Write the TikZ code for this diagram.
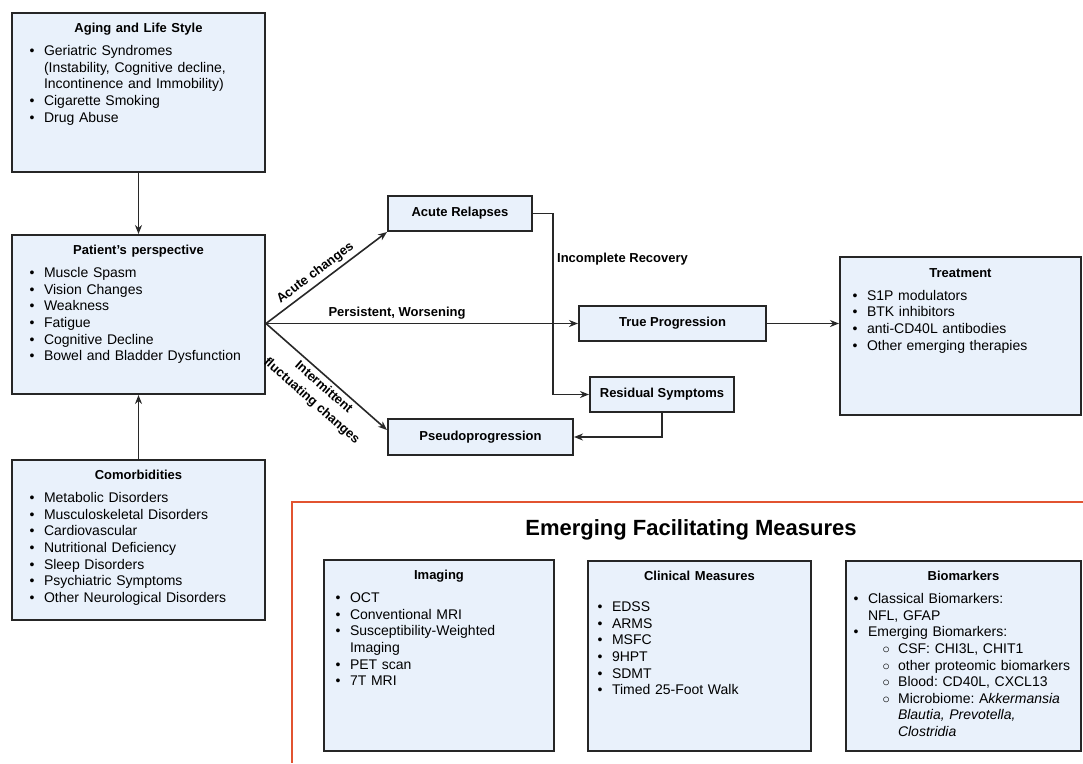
\documentclass[tikz,border=0pt]{standalone}
\usepackage{fontspec}
\setmainfont{Liberation Sans}
\usepackage{xcolor}
\usetikzlibrary{arrows.meta, positioning}
\frenchspacing

\definecolor{boxfill}{RGB}{233,241,251}
\definecolor{boxline}{RGB}{38,38,38}
\definecolor{arrowcol}{RGB}{40,40,40}
\definecolor{redframe}{RGB}{226,83,48}

\newcommand{\bodyfont}{\fontsize{14}{16.6}\selectfont}
\newcommand{\head}[1]{{\centering\fontsize{13}{15}\selectfont\bfseries #1\par}}
\newenvironment{bul}{\begin{list}{\textbullet}{\setlength{\leftmargin}{14pt}\setlength{\labelsep}{9.5pt}\setlength{\labelwidth}{5pt}\setlength{\itemsep}{0pt}\setlength{\parsep}{0pt}\setlength{\topsep}{6.5pt}\setlength{\partopsep}{0pt}}}{\end{list}}
\newenvironment{subbul}{\begin{list}{$\circ$}{\setlength{\leftmargin}{30pt}\setlength{\labelsep}{8.5pt}\setlength{\labelwidth}{7pt}\setlength{\itemsep}{0pt}\setlength{\parsep}{0pt}\setlength{\topsep}{0pt}\setlength{\partopsep}{0pt}}}{\end{list}}

\begin{document}
\begin{tikzpicture}[
    x=1pt, y=-1pt,
    box/.style={rectangle, draw=boxline, line width=2pt, fill=boxfill, inner sep=0pt},
    txt/.style={text width=#1, inner sep=0pt, align=left, font=\bodyfont, execute at begin node={\linewidth=\hsize}},
    tag/.style={font=\fontsize{13}{15}\selectfont\bfseries},
    arrow/.style={-{Stealth[length=9pt,width=7pt]}, line width=1.6pt, draw=arrowcol}
]
\useasboundingbox (0,0) rectangle (1083,763);

% left column
\node[box, minimum width=253pt, minimum height=159pt] (aging) at (138.5,92.5) {};
\node[box, minimum width=253pt, minimum height=159pt] (patient) at (138.5,314.5) {};
\node[box, minimum width=253pt, minimum height=160pt] (comorb) at (138.5,540) {};

\node[txt=217pt, below=11pt of aging.north] (aging-txt) {\head{Aging and Life Style}
  \begin{bul}
  \item Geriatric Syndromes\newline (Instability, Cognitive decline,\newline Incontinence and Immobility)
  \item Cigarette Smoking
  \item Drug Abuse
  \end{bul}};
\node[txt=217pt, below=11pt of patient.north] (patient-txt) {\head{Patient's perspective}
  \begin{bul}
  \item Muscle Spasm
  \item Vision Changes
  \item Weakness
  \item Fatigue
  \item Cognitive Decline
  \item Bowel and Bladder Dysfunction
  \end{bul}};
\node[txt=217pt, below=11pt of comorb.north] (comorb-txt) {\head{Comorbidities}
  \begin{bul}
  \item Metabolic Disorders
  \item Musculoskeletal Disorders
  \item Cardiovascular
  \item Nutritional Deficiency
  \item Sleep Disorders
  \item Psychiatric Symptoms
  \item Other Neurological Disorders
  \end{bul}};

% course of disease
\node[box, tag, minimum width=144pt, minimum height=35pt] (acute) at (460,213.5) {Acute Relapses};
\node[box, tag, minimum width=187pt, minimum height=35pt] (trueprog) at (672.5,323.5) {True Progression};
\node[box, tag, minimum width=144pt, minimum height=35pt] (residual) at (662,394.5) {Residual Symptoms};
\node[box, tag, minimum width=185pt, minimum height=36pt] (pseudo) at (480.5,437) {Pseudoprogression};

\node[box, minimum width=241pt, minimum height=158pt] (treat) at (960.5,336) {};
\node[txt=215pt, below=12pt of treat.north] (treat-txt) {\head{Treatment}
  \begin{bul}
  \item S1P modulators
  \item BTK inhibitors
  \item anti-CD40L antibodies
  \item Other emerging therapies
  \end{bul}};

\draw[arrow] (aging) -- (patient);
\draw[arrow] (comorb) -- (patient);
\coordinate (fan) at (patient.east |- trueprog.west);
\draw[arrow] (fan) -- node[tag, sloped, above, pos=0.46] {Acute changes} (acute.south west);
\draw[arrow] (fan) -- node[tag, above, pos=0.42] {Persistent, Worsening} (trueprog.west);
\draw[arrow] (fan) -- node[sloped, below, align=center, pos=0.53, font=\fontsize{13}{18}\selectfont\bfseries] {Intermittent\\fluctuating changes} ([yshift=7pt]pseudo.west);
\draw[arrow] (acute.east) -- ++(20,0) |- node[tag, right, pos=0.126] {Incomplete Recovery} (residual.west);
\draw[arrow] (residual.south) |- (pseudo.east);
\draw[arrow] (trueprog.east) -- (trueprog.east -| treat.west);

% emerging measures
\draw[draw=redframe, line width=2pt] (1083,502) -| (292,763);
\node[font=\fontsize{22}{26}\selectfont\bfseries] (emtitle) at (691,530) {Emerging Facilitating Measures};

\node[box, minimum width=230pt, minimum height=191pt] (imaging) at (439,655.5) {};
\node[box, minimum width=223pt, minimum height=190pt] (clinical) at (699.5,656) {};
\node[box, minimum width=235pt, minimum height=190pt] (biomark) at (963.5,656) {};

\node[txt=206pt, below=11pt of imaging.north] (imaging-txt) {\head{Imaging}
  \begin{bul}
  \item OCT
  \item Conventional MRI
  \item Susceptibility-Weighted\newline Imaging
  \item PET scan
  \item 7T MRI
  \end{bul}};
\node[txt=203pt, below=11pt of clinical.north] (clinical-txt) {\head{Clinical Measures}
  \vspace{8pt}
  \begin{bul}
  \item EDSS
  \item ARMS
  \item MSFC
  \item 9HPT
  \item SDMT
  \item Timed 25-Foot Walk
  \end{bul}};
\node[txt=219pt, below=11pt of biomark.north] (biomark-txt) {\head{Biomarkers}
  \begin{bul}
  \item Classical Biomarkers:\newline NFL, GFAP
  \item Emerging Biomarkers:
    \begin{subbul}
    \item CSF: CHI3L, CHIT1
    \item other proteomic biomarkers
    \item Blood: CD40L, CXCL13
    \item Microbiome: A\textit{kkermansia}\newline \textit{Blautia, Prevotella,}\newline \textit{Clostridia}
    \end{subbul}
  \end{bul}};
\end{tikzpicture}
\end{document}
